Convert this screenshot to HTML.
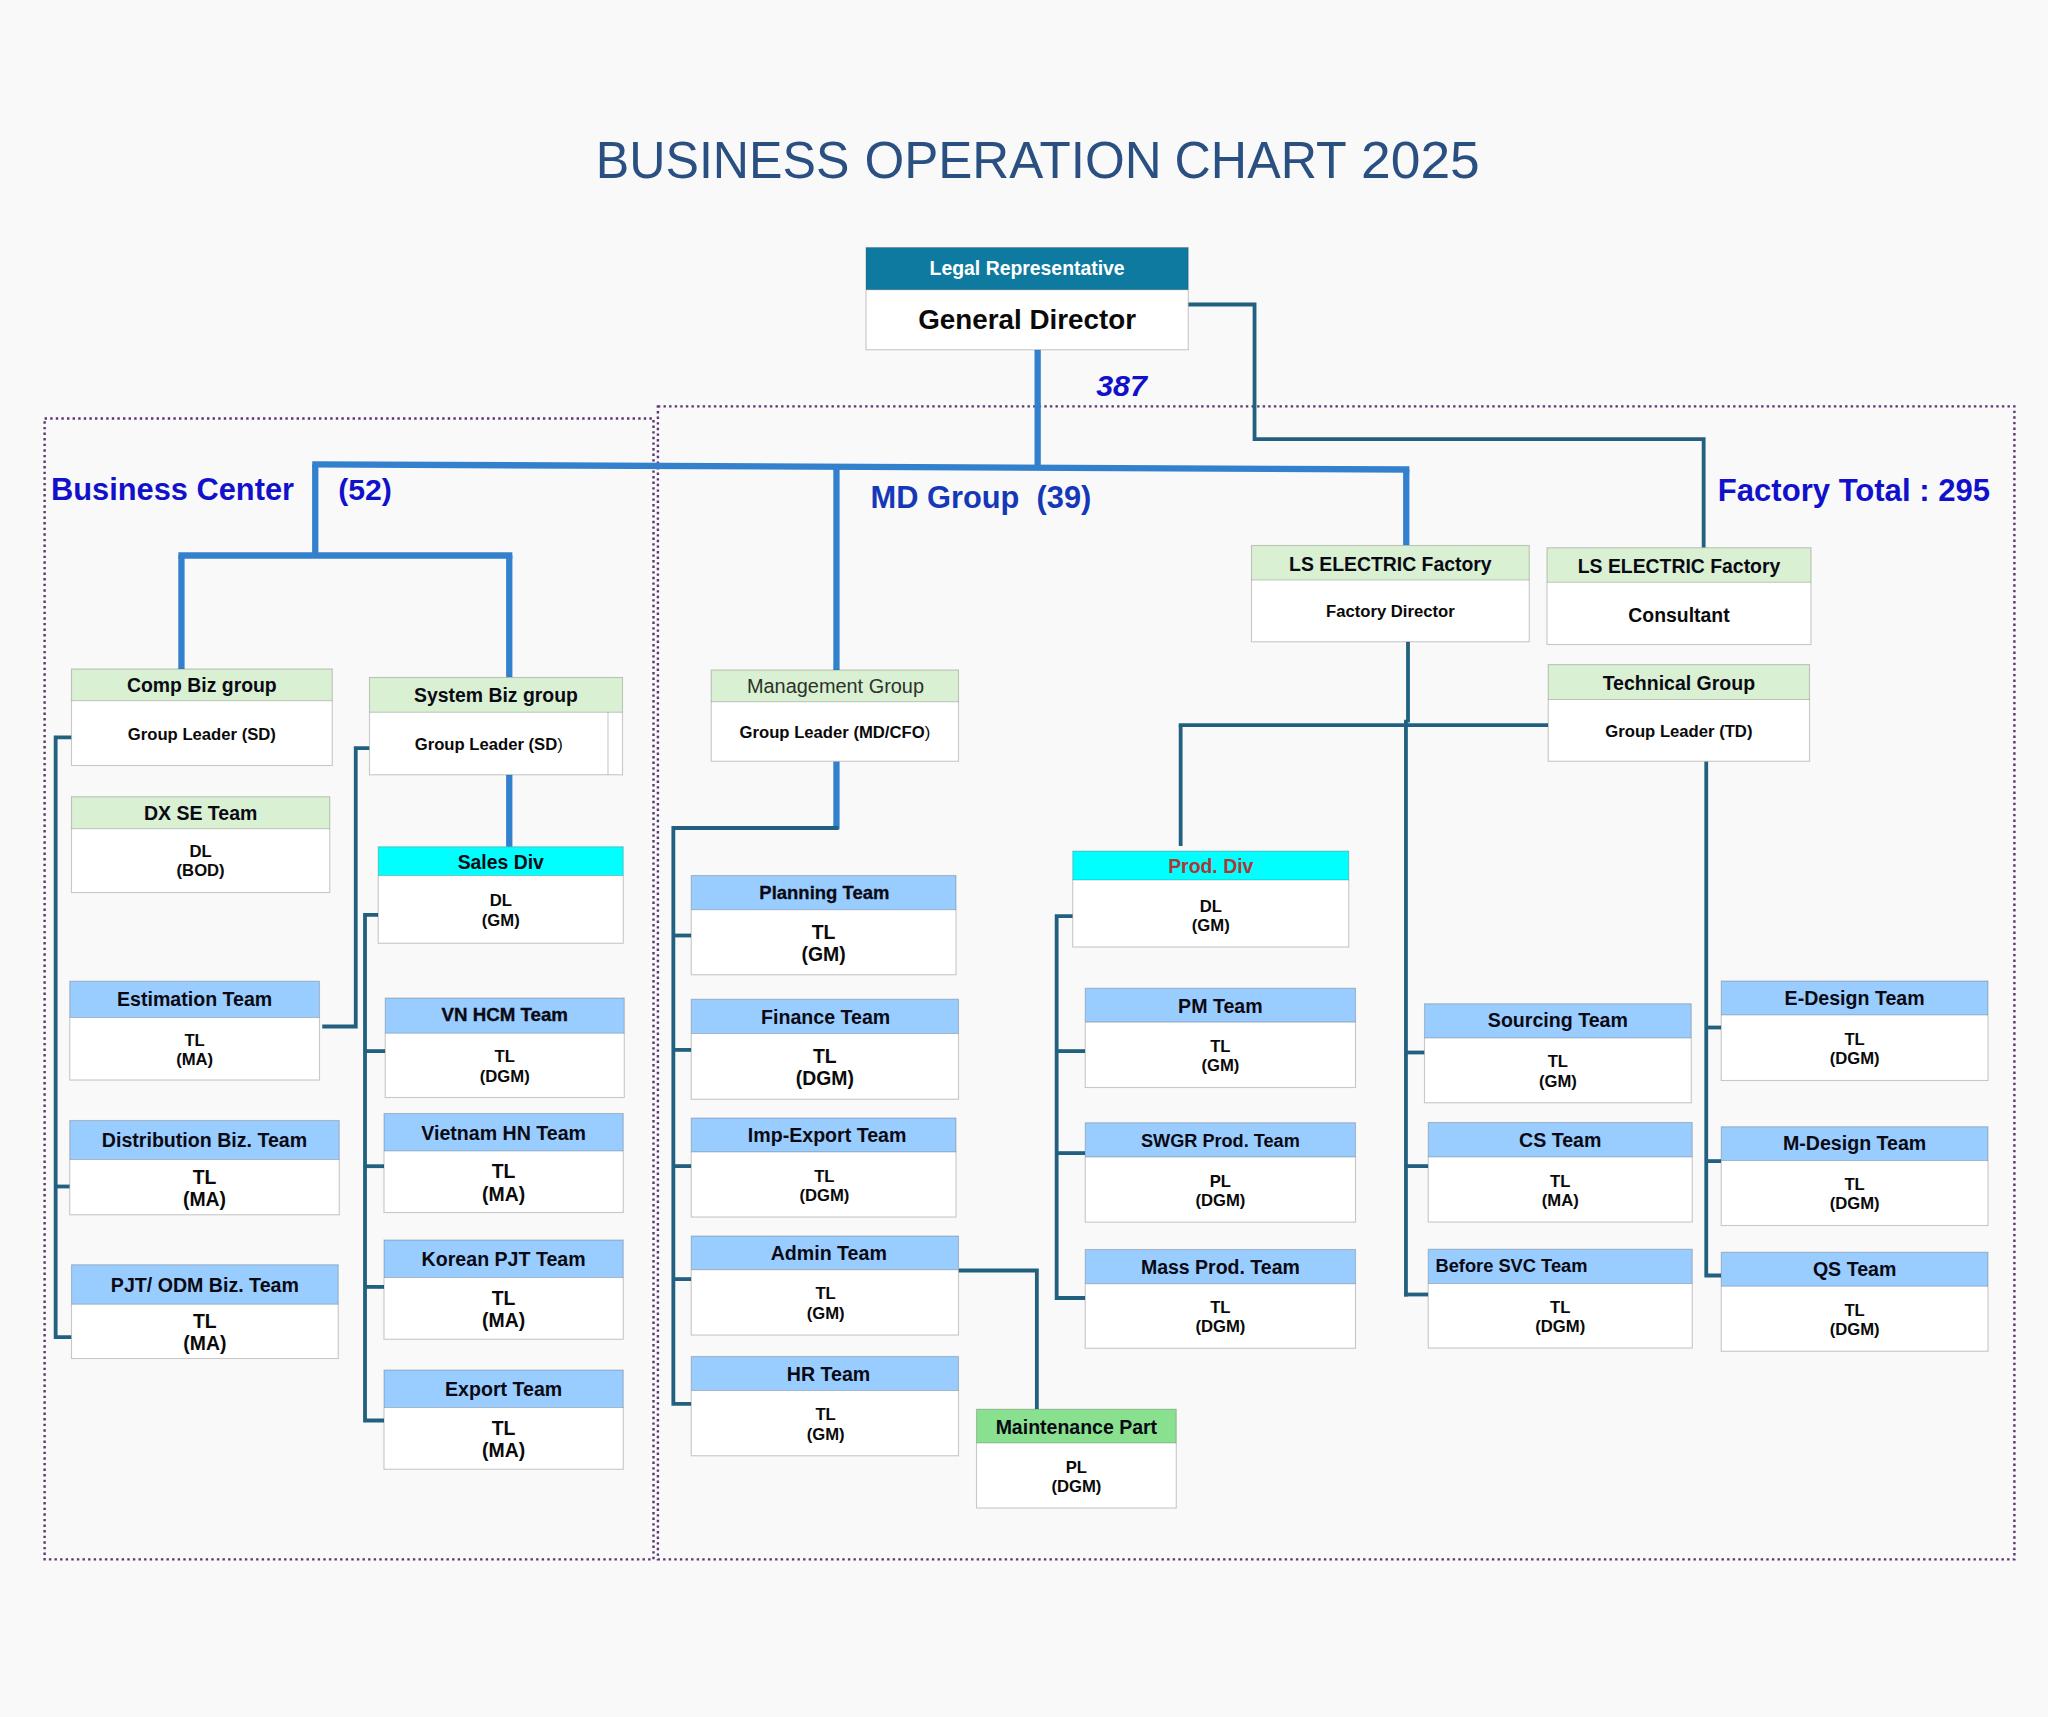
<!DOCTYPE html>
<html lang="en"><head><meta charset="utf-8"><title>Business Operation Chart 2025</title>
<style>
html,body{margin:0;padding:0;background:#f9f9f9;}
body{width:2048px;height:1717px;overflow:hidden;font-family:"Liberation Sans",sans-serif;}
svg{display:block;}
text{white-space:pre;}
</style></head><body>
<svg width="2048" height="1717" viewBox="0 0 2048 1717" font-family="'Liberation Sans', sans-serif">
<rect width="2048" height="1717" fill="#f9f9f9"/>
<path d="M44.6,418.5 H653.5 V1559.4 H44.6 Z" stroke="#5c3672" stroke-width="2.4" stroke-dasharray="2.4 3.2" fill="none"/>
<path d="M657.9,406.4 H2014.4 V1559.4 H657.9 Z" stroke="#5c3672" stroke-width="2.4" stroke-dasharray="2.4 3.2" fill="none"/>
<g font-size="51" fill="#2a5082" aria-label="BUSINESS OPERATION CHART 2025">
<text x="595.8" y="177.5" textLength="253.6" lengthAdjust="spacingAndGlyphs">BUSINESS</text>
<text x="864.4" y="177.5" textLength="297.3" lengthAdjust="spacingAndGlyphs">OPERATION</text>
<text x="1174.6" y="177.5" textLength="172.1" lengthAdjust="spacingAndGlyphs">CHART</text>
<text x="1361.1" y="177.5" textLength="118.7" lengthAdjust="spacingAndGlyphs">2025</text>
</g>
<g transform="translate(0.25,0.5)">
<g fill="none" stroke="#3380cc" stroke-width="6.3" stroke-linecap="butt" stroke-linejoin="miter">
<path d="M1037.4,349 V468.24"/>
<path d="M312,463.8 L1409.1,469"/>
<path d="M315,463.81 V555"/>
<path d="M178.1,555 H512.1"/>
<path d="M181.2,555 V668.5"/>
<path d="M509,555 V677"/>
<path d="M509,774 V846.5"/>
<path d="M836.2,466.28 V669.5"/>
<path d="M836.2,761 V829"/>
<path d="M1406,468.99 V545"/>
</g>
<g fill="none" stroke="#21607f" stroke-width="3.8" stroke-linejoin="miter">
<path d="M1188,304 H1254.3 V438.6 H1703.4 V547.3"/>
<path d="M1407.75,641 V722"/>
<path d="M1405.7,719.3 V1295.9"/>
<path d="M1178.5,724.7 H1548"/>
<path d="M1180.4,724.7 V845.5"/>
<path d="M1072.5,915.6 H1056.4 V1297.5 H1085"/>
<path d="M1056.4,1050.6 H1085"/>
<path d="M1056.4,1152.6 H1085"/>
<path d="M71.25,736.8 H55.4 V1336.6 H71.25"/>
<path d="M55.4,1186 H69.5"/>
<path d="M369.25,747.6 H355.5 V1026 H322"/>
<path d="M378,914.4 H364.75 V1420 H383.75"/>
<path d="M364.75,1050.6 H385"/>
<path d="M364.75,1165.7 H383.75"/>
<path d="M364.75,1286.4 H383.75"/>
<path d="M838,827.5 H673.1 V1403.4 H691"/>
<path d="M673.1,935 H691"/>
<path d="M673.1,1049.4 H691"/>
<path d="M673.1,1165.6 H691"/>
<path d="M673.1,1278.6 H691"/>
<path d="M958.25,1270 H1036.6 V1409"/>
<path d="M1405.7,1052 H1424.25"/>
<path d="M1405.7,1165.6 H1428"/>
<path d="M1403.8,1294 H1428"/>
<path d="M1706,761 V1275 H1721"/>
<path d="M1706,1027 H1721"/>
<path d="M1706,1160.6 H1721"/>
</g>
<g>
<rect x="865.75" y="247" width="322.25" height="102.25" fill="#fff"/>
<rect x="865.75" y="247" width="322.25" height="42.25" fill="#0f7aa0"/>
<path d="M865.75,289.25 H1188" stroke="rgba(60,60,60,0.27)" stroke-width="1.1" fill="none"/>
<rect x="865.75" y="247" width="322.25" height="102.25" fill="none" stroke="rgba(60,60,60,0.27)" stroke-width="1.1"/>
<text x="1026.88" y="274.55" text-anchor="middle" font-size="19.4" font-weight="700" fill="#fff">Legal Representative</text>
<text x="1026.88" y="328.38" text-anchor="middle" font-size="27.8" font-weight="700" fill="#0a0a0a">General Director</text>
</g>
<g>
<rect x="71.25" y="668.5" width="260.75" height="96.5" fill="#fff"/>
<rect x="71.25" y="668.5" width="260.75" height="31.8" fill="#d9f0d2"/>
<path d="M71.25,700.3 H332" stroke="rgba(60,60,60,0.27)" stroke-width="1.1" fill="none"/>
<rect x="71.25" y="668.5" width="260.75" height="96.5" fill="none" stroke="rgba(60,60,60,0.27)" stroke-width="1.1"/>
<text x="201.62" y="691.82" text-anchor="middle" font-size="19.4" font-weight="700" fill="#0a0a14">Comp Biz group</text>
<text x="201.62" y="739.43" text-anchor="middle" font-size="16.67" font-weight="700" fill="#0a0a0a">Group Leader (SD)</text>
</g>
<g>
<rect x="369.25" y="677" width="253" height="97.25" fill="#fff"/>
<rect x="369.25" y="677" width="253" height="34.75" fill="#d9f0d2"/>
<path d="M369.25,711.75 H622.25" stroke="rgba(60,60,60,0.27)" stroke-width="1.1" fill="none"/>
<path d="M607.75,711.75 V774.25" stroke="rgba(60,60,60,0.27)" stroke-width="1.1" fill="none"/>
<rect x="369.25" y="677" width="253" height="97.25" fill="none" stroke="rgba(60,60,60,0.27)" stroke-width="1.1"/>
<text x="495.75" y="701.8" text-anchor="middle" font-size="19.4" font-weight="700" fill="#0a0a14">System Biz group</text>
<text x="488.5" y="749.78" text-anchor="middle" font-size="16.67" font-weight="700" fill="#0a0a0a">Group Leader (SD<tspan font-weight="400">)</tspan></text>
</g>
<g>
<rect x="71.25" y="796.25" width="258.25" height="95.75" fill="#fff"/>
<rect x="71.25" y="796.25" width="258.25" height="32" fill="#d9f0d2"/>
<path d="M71.25,828.25 H329.5" stroke="rgba(60,60,60,0.27)" stroke-width="1.1" fill="none"/>
<rect x="71.25" y="796.25" width="258.25" height="95.75" fill="none" stroke="rgba(60,60,60,0.27)" stroke-width="1.1"/>
<text x="200.38" y="819.71" text-anchor="middle" font-size="19.5" font-weight="700" fill="#0a0a14">DX SE Team</text>
<text x="200.38" y="856.43" text-anchor="middle" font-size="16.67" font-weight="700" fill="#0a0a0a">DL</text>
<text x="200.38" y="875.77" text-anchor="middle" font-size="16.67" font-weight="700" fill="#0a0a0a">(BOD)</text>
</g>
<g>
<rect x="69.5" y="980.75" width="249.75" height="98.75" fill="#fff"/>
<rect x="69.5" y="980.75" width="249.75" height="36.25" fill="#99ccff"/>
<path d="M69.5,1017 H319.25" stroke="rgba(60,60,60,0.27)" stroke-width="1.1" fill="none"/>
<rect x="69.5" y="980.75" width="249.75" height="98.75" fill="none" stroke="rgba(60,60,60,0.27)" stroke-width="1.1"/>
<text x="194.38" y="1005.77" text-anchor="middle" font-size="19.6" font-weight="700" fill="#0a0a14">Estimation Team</text>
<text x="194.38" y="1045.36" text-anchor="middle" font-size="16.67" font-weight="700" fill="#0a0a0a">TL</text>
<text x="194.38" y="1064.69" text-anchor="middle" font-size="16.67" font-weight="700" fill="#0a0a0a">(MA)</text>
</g>
<g>
<rect x="69.5" y="1120" width="269.5" height="94.25" fill="#fff"/>
<rect x="69.5" y="1120" width="269.5" height="39" fill="#99ccff"/>
<path d="M69.5,1159 H339" stroke="rgba(60,60,60,0.27)" stroke-width="1.1" fill="none"/>
<rect x="69.5" y="1120" width="269.5" height="94.25" fill="none" stroke="rgba(60,60,60,0.27)" stroke-width="1.1"/>
<text x="204.25" y="1146.99" text-anchor="middle" font-size="19.6" font-weight="700" fill="#0a0a14">Distribution Biz. Team</text>
<text x="204.25" y="1183.1" text-anchor="middle" font-size="19.4" font-weight="700" fill="#0a0a0a">TL</text>
<text x="204.25" y="1205.6" text-anchor="middle" font-size="19.4" font-weight="700" fill="#0a0a0a">(MA)</text>
</g>
<g>
<rect x="71.25" y="1264.25" width="266.75" height="93.75" fill="#fff"/>
<rect x="71.25" y="1264.25" width="266.75" height="39.5" fill="#99ccff"/>
<path d="M71.25,1303.75 H338" stroke="rgba(60,60,60,0.27)" stroke-width="1.1" fill="none"/>
<rect x="71.25" y="1264.25" width="266.75" height="93.75" fill="none" stroke="rgba(60,60,60,0.27)" stroke-width="1.1"/>
<text x="204.62" y="1291.49" text-anchor="middle" font-size="19.6" font-weight="700" fill="#0a0a14">PJT/ ODM Biz. Team</text>
<text x="204.62" y="1327.35" text-anchor="middle" font-size="19.4" font-weight="700" fill="#0a0a0a">TL</text>
<text x="204.62" y="1349.85" text-anchor="middle" font-size="19.4" font-weight="700" fill="#0a0a0a">(MA)</text>
</g>
<g>
<rect x="378" y="846.25" width="245" height="96.5" fill="#fff"/>
<rect x="378" y="846.25" width="245" height="28.75" fill="#00ffff"/>
<path d="M378,875 H623" stroke="rgba(60,60,60,0.27)" stroke-width="1.1" fill="none"/>
<rect x="378" y="846.25" width="245" height="96.5" fill="none" stroke="rgba(60,60,60,0.27)" stroke-width="1.1"/>
<text x="500.5" y="868.05" text-anchor="middle" font-size="19.4" font-weight="700" fill="#0a0a14">Sales Div</text>
<text x="500.5" y="905.98" text-anchor="middle" font-size="16.67" font-weight="700" fill="#0a0a0a">DL</text>
<text x="500.5" y="925.32" text-anchor="middle" font-size="16.67" font-weight="700" fill="#0a0a0a">(GM)</text>
</g>
<g>
<rect x="385" y="997.5" width="239" height="99.5" fill="#fff"/>
<rect x="385" y="997.5" width="239" height="35.25" fill="#99ccff"/>
<path d="M385,1032.75 H624" stroke="rgba(60,60,60,0.27)" stroke-width="1.1" fill="none"/>
<rect x="385" y="997.5" width="239" height="99.5" fill="none" stroke="rgba(60,60,60,0.27)" stroke-width="1.1"/>
<text x="504.5" y="1020.61" text-anchor="middle" font-size="19" font-weight="700" fill="#0a0a14" stroke="#0a0a14" stroke-width="0.35" textLength="126.5" lengthAdjust="spacingAndGlyphs">VN HCM Team</text>
<text x="504.5" y="1061.98" text-anchor="middle" font-size="16.67" font-weight="700" fill="#0a0a0a">TL</text>
<text x="504.5" y="1081.32" text-anchor="middle" font-size="16.67" font-weight="700" fill="#0a0a0a">(DGM)</text>
</g>
<g>
<rect x="383.75" y="1113" width="239.25" height="99" fill="#fff"/>
<rect x="383.75" y="1113" width="239.25" height="37.5" fill="#99ccff"/>
<path d="M383.75,1150.5 H623" stroke="rgba(60,60,60,0.27)" stroke-width="1.1" fill="none"/>
<rect x="383.75" y="1113" width="239.25" height="99" fill="none" stroke="rgba(60,60,60,0.27)" stroke-width="1.1"/>
<text x="503.38" y="1139.24" text-anchor="middle" font-size="19.6" font-weight="700" fill="#0a0a14">Vietnam HN Team</text>
<text x="503.38" y="1177.72" text-anchor="middle" font-size="19.4" font-weight="700" fill="#0a0a0a">TL</text>
<text x="503.38" y="1200.22" text-anchor="middle" font-size="19.4" font-weight="700" fill="#0a0a0a">(MA)</text>
</g>
<g>
<rect x="383.75" y="1239.5" width="239.25" height="99.25" fill="#fff"/>
<rect x="383.75" y="1239.5" width="239.25" height="37.5" fill="#99ccff"/>
<path d="M383.75,1277 H623" stroke="rgba(60,60,60,0.27)" stroke-width="1.1" fill="none"/>
<rect x="383.75" y="1239.5" width="239.25" height="99.25" fill="none" stroke="rgba(60,60,60,0.27)" stroke-width="1.1"/>
<text x="503.38" y="1265.74" text-anchor="middle" font-size="19.6" font-weight="700" fill="#0a0a14">Korean PJT Team</text>
<text x="503.38" y="1304.35" text-anchor="middle" font-size="19.4" font-weight="700" fill="#0a0a0a">TL</text>
<text x="503.38" y="1326.85" text-anchor="middle" font-size="19.4" font-weight="700" fill="#0a0a0a">(MA)</text>
</g>
<g>
<rect x="383.75" y="1369.5" width="239.25" height="99.25" fill="#fff"/>
<rect x="383.75" y="1369.5" width="239.25" height="37.5" fill="#99ccff"/>
<path d="M383.75,1407 H623" stroke="rgba(60,60,60,0.27)" stroke-width="1.1" fill="none"/>
<rect x="383.75" y="1369.5" width="239.25" height="99.25" fill="none" stroke="rgba(60,60,60,0.27)" stroke-width="1.1"/>
<text x="503.38" y="1395.74" text-anchor="middle" font-size="19.6" font-weight="700" fill="#0a0a14">Export Team</text>
<text x="503.38" y="1434.35" text-anchor="middle" font-size="19.4" font-weight="700" fill="#0a0a0a">TL</text>
<text x="503.38" y="1456.85" text-anchor="middle" font-size="19.4" font-weight="700" fill="#0a0a0a">(MA)</text>
</g>
<g>
<rect x="711" y="669.5" width="247.25" height="91.25" fill="#fff"/>
<rect x="711" y="669.5" width="247.25" height="31.75" fill="#d9f0d2"/>
<path d="M711,701.25 H958.25" stroke="rgba(60,60,60,0.27)" stroke-width="1.1" fill="none"/>
<rect x="711" y="669.5" width="247.25" height="91.25" fill="none" stroke="rgba(60,60,60,0.27)" stroke-width="1.1"/>
<text x="835.23" y="692.83" text-anchor="middle" font-size="19.5" font-weight="400" fill="#2b332b" textLength="177" lengthAdjust="spacingAndGlyphs">Management Group</text>
<text x="834.62" y="737.08" text-anchor="middle" font-size="16.67" font-weight="700" fill="#0a0a0a">Group Leader (MD/CFO<tspan font-weight="400">)</tspan></text>
</g>
<g>
<rect x="691" y="875" width="264.75" height="99.25" fill="#fff"/>
<rect x="691" y="875" width="264.75" height="34.25" fill="#99ccff"/>
<path d="M691,909.25 H955.75" stroke="rgba(60,60,60,0.27)" stroke-width="1.1" fill="none"/>
<rect x="691" y="875" width="264.75" height="99.25" fill="none" stroke="rgba(60,60,60,0.27)" stroke-width="1.1"/>
<text x="824.12" y="898.02" text-anchor="middle" font-size="18.6" font-weight="700" fill="#0a0a14" stroke="#0a0a14" stroke-width="0.3" textLength="130" lengthAdjust="spacingAndGlyphs">Planning Team</text>
<text x="823.38" y="938.22" text-anchor="middle" font-size="19.4" font-weight="700" fill="#0a0a0a">TL</text>
<text x="823.38" y="960.72" text-anchor="middle" font-size="19.4" font-weight="700" fill="#0a0a0a">(GM)</text>
</g>
<g>
<rect x="691" y="998.75" width="267.25" height="100" fill="#fff"/>
<rect x="691" y="998.75" width="267.25" height="34.25" fill="#99ccff"/>
<path d="M691,1033 H958.25" stroke="rgba(60,60,60,0.27)" stroke-width="1.1" fill="none"/>
<rect x="691" y="998.75" width="267.25" height="100" fill="none" stroke="rgba(60,60,60,0.27)" stroke-width="1.1"/>
<text x="825.38" y="1023.37" text-anchor="middle" font-size="19.6" font-weight="700" fill="#0a0a14">Finance Team</text>
<text x="824.62" y="1062.35" text-anchor="middle" font-size="19.4" font-weight="700" fill="#0a0a0a">TL</text>
<text x="824.62" y="1084.85" text-anchor="middle" font-size="19.4" font-weight="700" fill="#0a0a0a">(DGM)</text>
</g>
<g>
<rect x="691" y="1117.5" width="264.75" height="99" fill="#fff"/>
<rect x="691" y="1117.5" width="264.75" height="33.9" fill="#99ccff"/>
<path d="M691,1151.4 H955.75" stroke="rgba(60,60,60,0.27)" stroke-width="1.1" fill="none"/>
<rect x="691" y="1117.5" width="264.75" height="99" fill="none" stroke="rgba(60,60,60,0.27)" stroke-width="1.1"/>
<text x="826.88" y="1141.94" text-anchor="middle" font-size="19.6" font-weight="700" fill="#0a0a14">Imp-Export Team</text>
<text x="824.12" y="1181.06" text-anchor="middle" font-size="16.67" font-weight="700" fill="#0a0a0a">TL</text>
<text x="824.12" y="1200.39" text-anchor="middle" font-size="16.67" font-weight="700" fill="#0a0a0a">(DGM)</text>
</g>
<g>
<rect x="691" y="1235.5" width="267.25" height="99" fill="#fff"/>
<rect x="691" y="1235.5" width="267.25" height="33.6" fill="#99ccff"/>
<path d="M691,1269.1 H958.25" stroke="rgba(60,60,60,0.27)" stroke-width="1.1" fill="none"/>
<rect x="691" y="1235.5" width="267.25" height="99" fill="none" stroke="rgba(60,60,60,0.27)" stroke-width="1.1"/>
<text x="828.52" y="1259.79" text-anchor="middle" font-size="19.6" font-weight="700" fill="#0a0a14">Admin Team</text>
<text x="825.38" y="1298.91" text-anchor="middle" font-size="16.67" font-weight="700" fill="#0a0a0a">TL</text>
<text x="825.38" y="1318.24" text-anchor="middle" font-size="16.67" font-weight="700" fill="#0a0a0a">(GM)</text>
</g>
<g>
<rect x="691" y="1356" width="267.25" height="99.25" fill="#fff"/>
<rect x="691" y="1356" width="267.25" height="34" fill="#99ccff"/>
<path d="M691,1390 H958.25" stroke="rgba(60,60,60,0.27)" stroke-width="1.1" fill="none"/>
<rect x="691" y="1356" width="267.25" height="99.25" fill="none" stroke="rgba(60,60,60,0.27)" stroke-width="1.1"/>
<text x="828.23" y="1380.49" text-anchor="middle" font-size="19.6" font-weight="700" fill="#0a0a14">HR Team</text>
<text x="825.38" y="1419.73" text-anchor="middle" font-size="16.67" font-weight="700" fill="#0a0a0a">TL</text>
<text x="825.38" y="1439.07" text-anchor="middle" font-size="16.67" font-weight="700" fill="#0a0a0a">(GM)</text>
</g>
<g>
<rect x="976.25" y="1408.75" width="199.75" height="98.75" fill="#fff"/>
<rect x="976.25" y="1408.75" width="199.75" height="33.75" fill="#89e08f"/>
<path d="M976.25,1442.5 H1176" stroke="rgba(60,60,60,0.27)" stroke-width="1.1" fill="none"/>
<rect x="976.25" y="1408.75" width="199.75" height="98.75" fill="none" stroke="rgba(60,60,60,0.27)" stroke-width="1.1"/>
<text x="1076.12" y="1433.08" text-anchor="middle" font-size="19.5" font-weight="700" fill="#0a0a14">Maintenance Part</text>
<text x="1076.12" y="1472.11" text-anchor="middle" font-size="16.67" font-weight="700" fill="#0a0a0a">PL</text>
<text x="1076.12" y="1491.44" text-anchor="middle" font-size="16.67" font-weight="700" fill="#0a0a0a">(DGM)</text>
</g>
<g>
<rect x="1072.5" y="850.6" width="276" height="95.9" fill="#fff"/>
<rect x="1072.5" y="850.6" width="276" height="28.9" fill="#00ffff"/>
<path d="M1072.5,879.5 H1348.5" stroke="rgba(60,60,60,0.27)" stroke-width="1.1" fill="none"/>
<rect x="1072.5" y="850.6" width="276" height="95.9" fill="none" stroke="rgba(60,60,60,0.27)" stroke-width="1.1"/>
<text x="1210.5" y="872.97" text-anchor="middle" font-size="19.4" font-weight="700" fill="#b03636">Prod. Div</text>
<text x="1210.5" y="911.01" text-anchor="middle" font-size="16.67" font-weight="700" fill="#0a0a0a">DL</text>
<text x="1210.5" y="930.34" text-anchor="middle" font-size="16.67" font-weight="700" fill="#0a0a0a">(GM)</text>
</g>
<g>
<rect x="1085" y="987.75" width="270.25" height="99.25" fill="#fff"/>
<rect x="1085" y="987.75" width="270.25" height="33.85" fill="#99ccff"/>
<path d="M1085,1021.6 H1355.25" stroke="rgba(60,60,60,0.27)" stroke-width="1.1" fill="none"/>
<rect x="1085" y="987.75" width="270.25" height="99.25" fill="none" stroke="rgba(60,60,60,0.27)" stroke-width="1.1"/>
<text x="1220.12" y="1012.17" text-anchor="middle" font-size="19.6" font-weight="700" fill="#0a0a14">PM Team</text>
<text x="1220.12" y="1051.41" text-anchor="middle" font-size="16.67" font-weight="700" fill="#0a0a0a">TL</text>
<text x="1220.12" y="1070.74" text-anchor="middle" font-size="16.67" font-weight="700" fill="#0a0a0a">(GM)</text>
</g>
<g>
<rect x="1085" y="1122.25" width="270.25" height="99.35" fill="#fff"/>
<rect x="1085" y="1122.25" width="270.25" height="34.15" fill="#99ccff"/>
<path d="M1085,1156.4 H1355.25" stroke="rgba(60,60,60,0.27)" stroke-width="1.1" fill="none"/>
<rect x="1085" y="1122.25" width="270.25" height="99.35" fill="none" stroke="rgba(60,60,60,0.27)" stroke-width="1.1"/>
<text x="1220.12" y="1146.31" text-anchor="middle" font-size="18.15" font-weight="700" fill="#0a0a14">SWGR Prod. Team</text>
<text x="1220.12" y="1186.11" text-anchor="middle" font-size="16.67" font-weight="700" fill="#0a0a0a">PL</text>
<text x="1220.12" y="1205.44" text-anchor="middle" font-size="16.67" font-weight="700" fill="#0a0a0a">(DGM)</text>
</g>
<g>
<rect x="1085" y="1249" width="270.25" height="98.75" fill="#fff"/>
<rect x="1085" y="1249" width="270.25" height="34.1" fill="#99ccff"/>
<path d="M1085,1283.1 H1355.25" stroke="rgba(60,60,60,0.27)" stroke-width="1.1" fill="none"/>
<rect x="1085" y="1249" width="270.25" height="98.75" fill="none" stroke="rgba(60,60,60,0.27)" stroke-width="1.1"/>
<text x="1220.12" y="1273.51" text-anchor="middle" font-size="19.5" font-weight="700" fill="#0a0a14">Mass Prod. Team</text>
<text x="1220.12" y="1312.53" text-anchor="middle" font-size="16.67" font-weight="700" fill="#0a0a0a">TL</text>
<text x="1220.12" y="1331.87" text-anchor="middle" font-size="16.67" font-weight="700" fill="#0a0a0a">(DGM)</text>
</g>
<g>
<rect x="1251.25" y="545" width="277.75" height="96.25" fill="#fff"/>
<rect x="1251.25" y="545" width="277.75" height="34.5" fill="#d9f0d2"/>
<path d="M1251.25,579.5 H1529" stroke="rgba(60,60,60,0.27)" stroke-width="1.1" fill="none"/>
<rect x="1251.25" y="545" width="277.75" height="96.25" fill="none" stroke="rgba(60,60,60,0.27)" stroke-width="1.1"/>
<text x="1390.12" y="570.37" text-anchor="middle" font-size="19.4" font-weight="700" fill="#0a0a14">LS ELECTRIC Factory</text>
<text x="1390.12" y="616.45" text-anchor="middle" font-size="16.67" font-weight="700" fill="#0a0a0a">Factory Director</text>
</g>
<g>
<rect x="1546.75" y="547.25" width="264" height="96.75" fill="#fff"/>
<rect x="1546.75" y="547.25" width="264" height="34.5" fill="#d9f0d2"/>
<path d="M1546.75,581.75 H1810.75" stroke="rgba(60,60,60,0.27)" stroke-width="1.1" fill="none"/>
<rect x="1546.75" y="547.25" width="264" height="96.75" fill="none" stroke="rgba(60,60,60,0.27)" stroke-width="1.1"/>
<text x="1678.75" y="572.92" text-anchor="middle" font-size="19.4" font-weight="700" fill="#0a0a14">LS ELECTRIC Factory</text>
<text x="1678.75" y="621.3" text-anchor="middle" font-size="19.4" font-weight="700" fill="#0a0a0a">Consultant</text>
</g>
<g>
<rect x="1548" y="664.1" width="261.25" height="96.65" fill="#fff"/>
<rect x="1548" y="664.1" width="261.25" height="34.9" fill="#d9f0d2"/>
<path d="M1548,699 H1809.25" stroke="rgba(60,60,60,0.27)" stroke-width="1.1" fill="none"/>
<rect x="1548" y="664.1" width="261.25" height="96.65" fill="none" stroke="rgba(60,60,60,0.27)" stroke-width="1.1"/>
<text x="1678.62" y="689.01" text-anchor="middle" font-size="19.5" font-weight="700" fill="#0a0a14">Technical Group</text>
<text x="1678.62" y="736.65" text-anchor="middle" font-size="16.67" font-weight="700" fill="#0a0a0a">Group Leader (TD)</text>
</g>
<g>
<rect x="1424.25" y="1003.25" width="266.75" height="99" fill="#fff"/>
<rect x="1424.25" y="1003.25" width="266.75" height="34.25" fill="#99ccff"/>
<path d="M1424.25,1037.5 H1691" stroke="rgba(60,60,60,0.27)" stroke-width="1.1" fill="none"/>
<rect x="1424.25" y="1003.25" width="266.75" height="99" fill="none" stroke="rgba(60,60,60,0.27)" stroke-width="1.1"/>
<text x="1557.62" y="1026.97" text-anchor="middle" font-size="19.6" font-weight="700" fill="#0a0a14">Sourcing Team</text>
<text x="1557.62" y="1066.98" text-anchor="middle" font-size="16.67" font-weight="700" fill="#0a0a0a">TL</text>
<text x="1557.62" y="1086.32" text-anchor="middle" font-size="16.67" font-weight="700" fill="#0a0a0a">(GM)</text>
</g>
<g>
<rect x="1428" y="1122" width="264" height="99.5" fill="#fff"/>
<rect x="1428" y="1122" width="264" height="34.5" fill="#99ccff"/>
<path d="M1428,1156.5 H1692" stroke="rgba(60,60,60,0.27)" stroke-width="1.1" fill="none"/>
<rect x="1428" y="1122" width="264" height="99.5" fill="none" stroke="rgba(60,60,60,0.27)" stroke-width="1.1"/>
<text x="1560" y="1146.04" text-anchor="middle" font-size="19.6" font-weight="700" fill="#0a0a14">CS Team</text>
<text x="1560" y="1186.11" text-anchor="middle" font-size="16.67" font-weight="700" fill="#0a0a0a">TL</text>
<text x="1560" y="1205.44" text-anchor="middle" font-size="16.67" font-weight="700" fill="#0a0a0a">(MA)</text>
</g>
<g>
<rect x="1428" y="1248.75" width="264" height="98.75" fill="#fff"/>
<rect x="1428" y="1248.75" width="264" height="34.25" fill="#99ccff"/>
<path d="M1428,1283 H1692" stroke="rgba(60,60,60,0.27)" stroke-width="1.1" fill="none"/>
<rect x="1428" y="1248.75" width="264" height="98.75" fill="none" stroke="rgba(60,60,60,0.27)" stroke-width="1.1"/>
<text x="1435.2" y="1271.32" font-size="18.3" font-weight="700" fill="#0a0a14">Before SVC Team</text>
<text x="1560" y="1312.36" text-anchor="middle" font-size="16.67" font-weight="700" fill="#0a0a0a">TL</text>
<text x="1560" y="1331.69" text-anchor="middle" font-size="16.67" font-weight="700" fill="#0a0a0a">(DGM)</text>
</g>
<g>
<rect x="1721" y="980.5" width="266.75" height="99.5" fill="#fff"/>
<rect x="1721" y="980.5" width="266.75" height="34" fill="#99ccff"/>
<path d="M1721,1014.5 H1987.75" stroke="rgba(60,60,60,0.27)" stroke-width="1.1" fill="none"/>
<rect x="1721" y="980.5" width="266.75" height="99.5" fill="none" stroke="rgba(60,60,60,0.27)" stroke-width="1.1"/>
<text x="1854.38" y="1004.99" text-anchor="middle" font-size="19.6" font-weight="700" fill="#0a0a14">E-Design Team</text>
<text x="1854.38" y="1044.36" text-anchor="middle" font-size="16.67" font-weight="700" fill="#0a0a0a">TL</text>
<text x="1854.38" y="1063.69" text-anchor="middle" font-size="16.67" font-weight="700" fill="#0a0a0a">(DGM)</text>
</g>
<g>
<rect x="1721" y="1126.25" width="266.75" height="98.75" fill="#fff"/>
<rect x="1721" y="1126.25" width="266.75" height="33.75" fill="#99ccff"/>
<path d="M1721,1160 H1987.75" stroke="rgba(60,60,60,0.27)" stroke-width="1.1" fill="none"/>
<rect x="1721" y="1126.25" width="266.75" height="98.75" fill="none" stroke="rgba(60,60,60,0.27)" stroke-width="1.1"/>
<text x="1854.38" y="1149.62" text-anchor="middle" font-size="19.6" font-weight="700" fill="#0a0a14">M-Design Team</text>
<text x="1854.38" y="1189.61" text-anchor="middle" font-size="16.67" font-weight="700" fill="#0a0a0a">TL</text>
<text x="1854.38" y="1208.94" text-anchor="middle" font-size="16.67" font-weight="700" fill="#0a0a0a">(DGM)</text>
</g>
<g>
<rect x="1721" y="1251.75" width="266.75" height="99" fill="#fff"/>
<rect x="1721" y="1251.75" width="266.75" height="34" fill="#99ccff"/>
<path d="M1721,1285.75 H1987.75" stroke="rgba(60,60,60,0.27)" stroke-width="1.1" fill="none"/>
<rect x="1721" y="1251.75" width="266.75" height="99" fill="none" stroke="rgba(60,60,60,0.27)" stroke-width="1.1"/>
<text x="1854.38" y="1275.64" text-anchor="middle" font-size="19.6" font-weight="700" fill="#0a0a14">QS Team</text>
<text x="1854.38" y="1315.36" text-anchor="middle" font-size="16.67" font-weight="700" fill="#0a0a0a">TL</text>
<text x="1854.38" y="1334.69" text-anchor="middle" font-size="16.67" font-weight="700" fill="#0a0a0a">(DGM)</text>
</g>
</g>
<text x="51" y="500.4" font-size="30.8" font-weight="700" fill="#1111cc">Business Center</text>
<text x="338.2" y="500.4" font-size="30.2" font-weight="700" fill="#1111cc">(52)</text>
<text x="870.6" y="507.5" font-size="30.8" font-weight="700" fill="#1438b8" xml:space="preserve">MD Group  (39)</text>
<text x="1717.8" y="501.3" font-size="31.07" font-weight="700" fill="#1111cc">Factory Total : 295</text>
<text x="1096.2" y="396.2" font-size="30.4" font-weight="700" font-style="italic" fill="#1111cc">387</text>
</svg>
</body></html>
